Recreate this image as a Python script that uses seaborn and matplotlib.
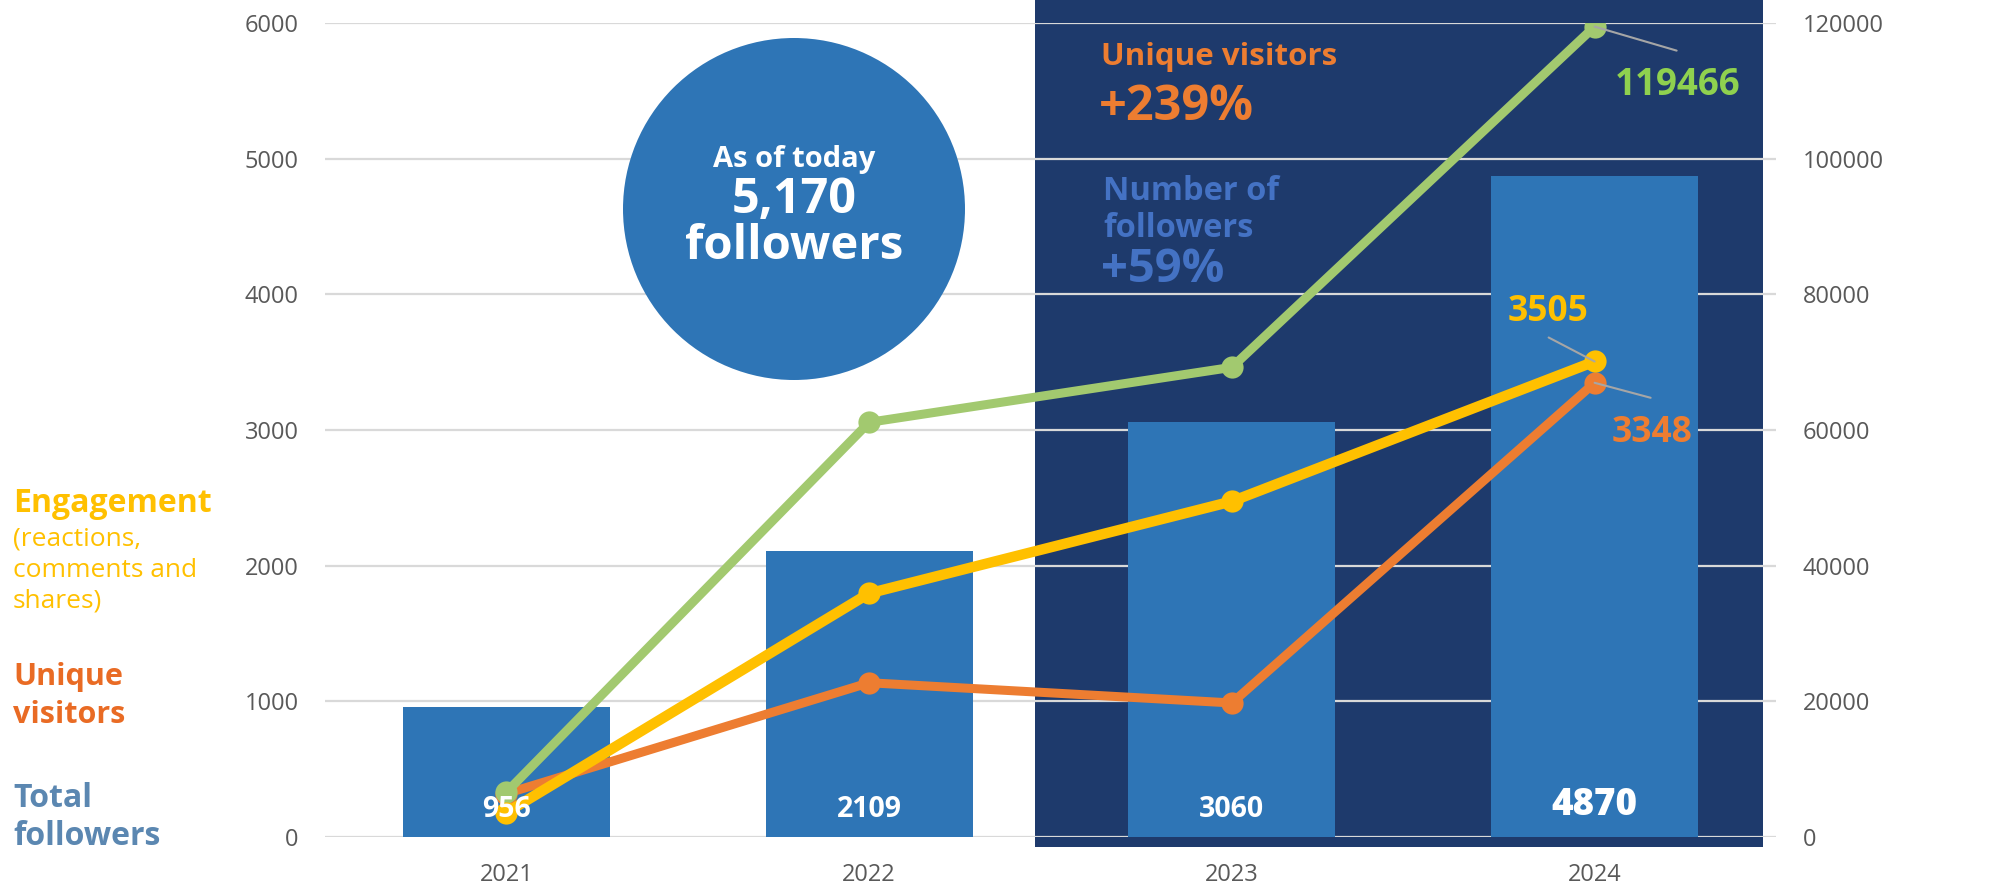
import matplotlib
matplotlib.use("Agg")
import matplotlib.pyplot as plt
import matplotlib.transforms as mtransforms
from matplotlib.patches import Rectangle, Ellipse
import seaborn as sns

# data
years = ["2021", "2022", "2023", "2024"]
total_followers = [956, 2109, 3060, 4870]          # bars, left axis
engagement = [180, 1796, 2474, 3505]               # yellow, left axis
unique_visitors = [320, 1137, 988, 3348]           # orange, left axis
impressions = [6600, 61130, 69240, 119466]         # green, right axis

left_ticks = [0, 1000, 2000, 3000, 4000, 5000, 6000]
right_ticks = [0, 20000, 40000, 60000, 80000, 100000, 120000]

BAR = "#2E75B6"
DARK = "#1E3A6C"
GREEN = "#A2C96F"
GREEN_TXT = "#8FD14F"
YELLOW = "#FFC000"
ORANGE = "#ED7D31"
BLUE_TXT = "#4472C4"
GREY = "#595959"

W, H = 2002, 885


def px(x, y):
    # pixel position -> figure fraction
    return x / W, 1 - y / H


sns.set_theme(style="white")
plt.rcParams["font.family"] = ["Open Sans", "DejaVu Sans"]

fig = plt.figure(figsize=(W / 100, H / 100), dpi=100)
ax = fig.add_axes([325 / W, 1 - 837 / H, (1776 - 325) / W, (837 - 23) / H])

# dark highlight panel behind 2023-2024
trans = mtransforms.blended_transform_factory(ax.transData, ax.transAxes)
ax.add_patch(Rectangle((1.456, -0.0117), 3.465 - 1.456, 1.05, transform=trans,
                       facecolor=DARK, edgecolor="none", zorder=0.2, clip_on=False))

sns.barplot(x=years, y=total_followers, color=BAR, saturation=1, width=0.57,
            linewidth=0, ax=ax, zorder=2)

# unique visitors sits under the green line
sns.pointplot(x=years, y=unique_visitors, color=ORANGE, markers="o", errorbar=None,
              markersize=16, linewidth=6.5, markeredgewidth=0, ax=ax, zorder=4)

ax.set_ylim(0, 6000)
ax.set_yticks(left_ticks)
ax.set_axisbelow(True)
ax.yaxis.grid(True, color="#D9D9D9", linewidth=1.6, zorder=0.5)
ax.xaxis.grid(False)

# impressions on right axis
ax2 = ax.twinx()
sns.pointplot(x=years, y=impressions, color=GREEN, markers="o", errorbar=None,
              markersize=16, linewidth=6.5, markeredgewidth=0, ax=ax2)
ax2.set_ylim(0, 120000)
ax2.set_yticks(right_ticks)

# engagement on left scale, drawn above the green line
ax3 = ax.twinx()
sns.pointplot(x=years, y=engagement, color=YELLOW, markers="o", errorbar=None,
              markersize=16, linewidth=7.5, markeredgewidth=0, ax=ax3)
ax3.set_ylim(0, 6000)
ax3.set_yticks([])

for a in (ax, ax2, ax3):
    a.set_xlim(-0.5, 3.5)
    a.set_xlabel("")
    a.set_ylabel("")
    for s in a.spines.values():
        s.set_visible(False)

ax.tick_params(axis="both", length=0, pad=19, labelsize=17, labelcolor=GREY)
ax2.tick_params(axis="y", length=0, pad=19, labelsize=17, labelcolor=GREY)

# bar values on top of everything (ax3 has the same 0-6000 scale)
for i, v in enumerate(total_followers):
    big = i == len(total_followers) - 1
    ax3.annotate(f"{v}", xy=(i, 0), xytext=(0, 22 if big else 20), textcoords="offset pixels",
                 ha="center", va="baseline", color="white",
                 fontsize=26.5 if big else 20.5, fontweight="heavy" if big else "bold", zorder=5)

# value labels with leader lines at 2024
leader = dict(arrowstyle="-", color="#A6A6A6", lw=1.5, shrinkA=0, shrinkB=0)
last = len(years) - 1
ax2.annotate("", xy=(last, impressions[-1]), xytext=(82, -24), textcoords="offset pixels",
             arrowprops=leader)
ax2.annotate(f"{impressions[-1]}", xy=(last, impressions[-1]), xytext=(83, -68),
             textcoords="offset pixels", ha="center", va="baseline",
             color=GREEN_TXT, fontsize=26.5, fontweight="bold")
ax3.annotate("", xy=(last, engagement[-1]), xytext=(-46, 24), textcoords="offset pixels",
             arrowprops=leader)
ax3.annotate(f"{engagement[-1]}", xy=(last, engagement[-1]), xytext=(-47, 40),
             textcoords="offset pixels", ha="center", va="baseline",
             color=YELLOW, fontsize=25.5, fontweight="bold")
ax3.annotate("", xy=(last, unique_visitors[-1]), xytext=(56, -15), textcoords="offset pixels",
             arrowprops=leader)
ax3.annotate(f"{unique_visitors[-1]}", xy=(last, unique_visitors[-1]), xytext=(57, -59),
             textcoords="offset pixels", ha="center", va="baseline",
             color=ORANGE, fontsize=25.5, fontweight="bold")

# "as of today" bubble
cx, cy = px(794, 209)
fig.add_artist(Ellipse((cx, cy), 342 / W, 342 / H, transform=fig.transFigure,
                       facecolor=BAR, edgecolor="none", zorder=3))
fig.text(*px(794, 167), "As of today", ha="center", va="baseline", color="white",
         fontsize=21, fontweight="bold", zorder=4)
fig.text(*px(794, 213), "5,170", ha="center", va="baseline", color="white",
         fontsize=35, fontweight="bold", zorder=4)
fig.text(*px(794, 259), "followers", ha="center", va="baseline", color="white",
         fontsize=34, fontweight="bold", zorder=4)

# growth notes in the dark panel
fig.text(*px(1101, 65), "Unique visitors", color=ORANGE, fontsize=22.5, fontweight="bold")
fig.text(*px(1099, 120), "+239%", color=ORANGE, fontsize=35, fontweight="bold")
fig.text(*px(1103, 200), "Number of", color=BLUE_TXT, fontsize=23.5, fontweight="bold")
fig.text(*px(1103, 237), "followers", color=BLUE_TXT, fontsize=23.5, fontweight="bold")
fig.text(*px(1101, 282), "+59%", color=BLUE_TXT, fontsize=34, fontweight="bold")

# series names on the left
fig.text(*px(13, 512), "Engagement", color=YELLOW, fontsize=23, fontweight="bold")
for txt, y in [("(reactions,", 545), ("comments and", 577), ("shares)", 608)]:
    fig.text(*px(13, y), txt, color=YELLOW, fontsize=19)
fig.text(*px(13, 685), "Unique", color="#E96B24", fontsize=22, fontweight="bold")
fig.text(*px(13, 723), "visitors", color="#E96B24", fontsize=22, fontweight="bold")
fig.text(*px(13, 807), "Total", color="#5B87B1", fontsize=23, fontweight="bold")
fig.text(*px(13, 845), "followers", color="#5B87B1", fontsize=23, fontweight="bold")

fig.savefig("out.png", dpi=100)
